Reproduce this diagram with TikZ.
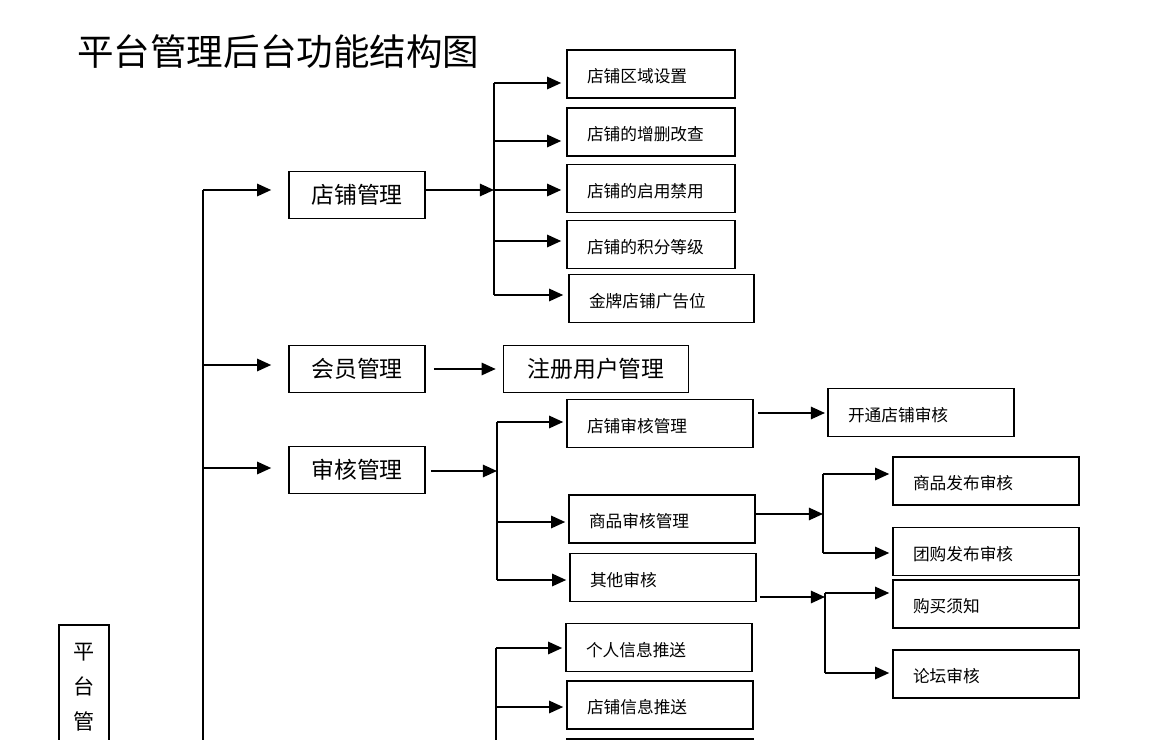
\documentclass[tikz,border=0pt]{standalone}
\usepackage{fontspec}
\setmainfont{Noto Sans CJK SC}
\usetikzlibrary{arrows.meta}
\tikzset{
  lvbox/.style={draw, line width=0.9pt, minimum width=2.72cm, minimum height=0.94cm, text height=1.1em, text depth=0.1em, font=\fontsize{13pt}{15pt}\selectfont},
  subbox/.style={draw, line width=0.9pt, minimum height=0.96cm, inner xsep=0.4cm, text width=#1, align=left, text height=1.1em, text depth=0.1em, font=\fontsize{9.5pt}{11pt}\selectfont},
  link/.style={line width=1.1pt},
}
\begin{document}
\begin{tikzpicture}[x=0.02cm, y=-0.02cm, >={Triangle[length=8pt,width=7pt]}]
\useasboundingbox (0,0) rectangle (1154,740);
\node[anchor=west, inner sep=0pt, font=\fontsize{20.8pt}{24pt}\selectfont] (title) at (77,52) {平台管理后台功能结构图};
\node[draw, line width=0.9pt, anchor=north, minimum width=1cm, align=center, inner ysep=10.5pt, text depth=3cm, font=\fontsize{12pt}{20pt}\selectfont] (root) at (84,624) {平\\台\\管};
\coordinate (t0) at (203,190);
\coordinate (t1) at (203,365);
\coordinate (t2) at (203,468);
\coordinate (tend) at (203,760);
\node[lvbox] (shop) at (357,195) {店铺管理};
\node[lvbox] (member) at (357,369) {会员管理};
\node[lvbox] (audit) at (357,470) {审核管理};
\node[lvbox, minimum width=3.7cm] (reguser) at (596,369) {注册用户管理};
\draw[link] (t0) -- (tend);
\draw[link,->,shorten >=0.34cm] (t0) -- (t0 -| shop.west);
\draw[link,->,shorten >=0.34cm] (t1) -- (t1 -| member.west);
\draw[link,->,shorten >=0.34cm] (t2) -- (t2 -| audit.west);
\node[subbox=2.56cm] (s1) at (651,74) {店铺区域设置};
\node[subbox=2.56cm] (s2) at (651,132) {店铺的增删改查};
\node[subbox=2.56cm] (s3) at (651,188.5) {店铺的启用禁用};
\node[subbox=2.56cm] (s4) at (651,244.5) {店铺的积分等级};
\node[subbox=2.9cm] (s5) at (661.5,298.5) {金牌店铺广告位};
\coordinate (js) at (494,190);
\coordinate (js1) at (494,83);
\coordinate (js2) at (494,141);
\coordinate (js4) at (494,241);
\coordinate (js5) at (494,295);
\draw[link,->] (shop.east |- js) -- (js);
\draw[link] (js1) -- (js5);
\draw[link,->,shorten >=0.1cm] (js1) -- (js1 -| s1.west);
\draw[link,->,shorten >=0.1cm] (js2) -- (js2 -| s2.west);
\draw[link,->,shorten >=0.1cm] (js) -- (js -| s3.west);
\draw[link,->,shorten >=0.1cm] (js4) -- (js4 -| s4.west);
\draw[link,->,shorten >=0.1cm] (js5) -- (js5 -| s5.west);
\draw[link,->,shorten <=0.16cm,shorten >=0.14cm] (member.east) -- (reguser.west);
\node[subbox=2.92cm] (a1) at (660,423.5) {店铺审核管理};
\node[subbox=2.92cm] (a2) at (662,519) {商品审核管理};
\node[subbox=2.92cm] (a3) at (663,577.5) {其他审核};
\coordinate (ja) at (497,471);
\coordinate (ja1) at (497,422);
\coordinate (ja2) at (497,522);
\coordinate (ja3) at (497,580);
\draw[link,->,shorten <=0.1cm] (audit.east |- ja) -- (ja);
\draw[link] (ja1) -- (ja3);
\draw[link,->,shorten >=0.06cm] (ja1) -- (ja1 -| a1.west);
\draw[link,->,shorten >=0.06cm] (ja2) -- (ja2 -| a2.west);
\draw[link,->,shorten >=0.06cm] (ja3) -- (ja3 -| a3.west);
\node[subbox=2.92cm] (b1) at (921,412.5) {开通店铺审核};
\coordinate (jb) at (825,413);
\draw[link,->,shorten <=0.08cm] (a1.east |- jb) -- (jb);
\node[subbox=2.92cm] (c1) at (986,481) {商品发布审核};
\node[subbox=2.92cm] (c2) at (986,551.5) {团购发布审核};
\coordinate (jc) at (823,514);
\coordinate (jc1) at (823,474);
\coordinate (jc2) at (823,553);
\draw[link,->] (a2.east |- jc) -- (jc);
\draw[link] (jc1) -- (jc2);
\draw[link,->,shorten >=0.06cm] (jc1) -- (jc1 -| c1.west);
\draw[link,->,shorten >=0.06cm] (jc2) -- (jc2 -| c2.west);
\node[subbox=2.92cm] (d1) at (986,604) {购买须知};
\node[subbox=2.92cm] (d2) at (986,674) {论坛审核};
\coordinate (jd) at (825,597);
\coordinate (jd1) at (825,593);
\coordinate (jd2) at (825,673);
\draw[link,->,shorten <=0.06cm] (a3.east |- jd) -- (jd);
\draw[link] (jd1) -- (jd2);
\draw[link,->,shorten >=0.06cm] (jd1) -- (jd1 -| d1.west);
\draw[link,->,shorten >=0.06cm] (jd2) -- (jd2 -| d2.west);
\node[subbox=2.92cm] (e1) at (659,647.5) {个人信息推送};
\node[subbox=2.92cm] (e2) at (660,705) {店铺信息推送};
\node[subbox=2.92cm] (e3) at (660,763) {};
\coordinate (je1) at (496,648);
\coordinate (je2) at (496,707);
\coordinate (jend) at (496,760);
\draw[link] (je1) -- (jend);
\draw[link,->,shorten >=0.06cm] (je1) -- (je1 -| e1.west);
\draw[link,->,shorten >=0.06cm] (je2) -- (je2 -| e2.west);
\end{tikzpicture}
\end{document}
